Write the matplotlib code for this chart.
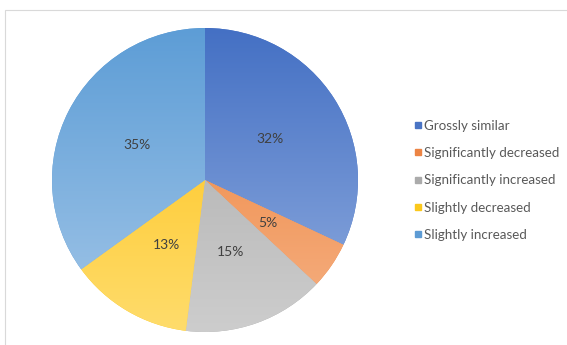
import numpy as np
import matplotlib
matplotlib.use("Agg")
import matplotlib.pyplot as plt
from matplotlib.colors import LinearSegmentedColormap
from matplotlib.lines import Line2D
from matplotlib.patches import Rectangle

# data
categories = ["Grossly similar", "Significantly decreased", "Significantly increased",
              "Slightly decreased", "Slightly increased"]
shares = [32, 5, 15, 13, 35]
# top/bottom shades for the gradient fill
top_colors = ["#4470c4", "#ee7f35", "#a8a8a8", "#fdc010", "#5d9dd6"]
bottom_colors = ["#91addf", "#f5b184", "#cdcdcd", "#ffdc6c", "#a2c6e8"]
legend_colors = ["#4a74c4", "#ec8444", "#ababab", "#fbc81c", "#5d9bd4"]

W, H = 567, 345
fig = plt.figure(figsize=(W / 100, H / 100), dpi=100)
fig.patch.set_facecolor("white")

# faint chart frame
fig.patches.append(Rectangle((5 / W, -0.1), 1.2, (H - 10) / H + 0.1, transform=fig.transFigure,
                             fill=False, edgecolor="#d9d9d9", linewidth=0.8))

cx, cy, rx, ry = 205, H - 180, 153, 152
ax = fig.add_axes([(cx - rx) / W, (cy - ry) / H, 2 * rx / W, 2 * ry / H])

wedges, texts, autotexts = ax.pie(
    shares, startangle=90, counterclock=False, colors=legend_colors,
    autopct="%1.0f%%", pctdistance=0.5,
    wedgeprops=dict(linewidth=0),
    textprops=dict(fontsize=10, color="#404040", family="Lato"),
)
ax.set_aspect("auto")

grad = np.linspace(0, 1, 256).reshape(-1, 1)
for w, c0, c1 in zip(wedges, top_colors, bottom_colors):
    cmap = LinearSegmentedColormap.from_list("g", [c0, c1])
    im = ax.imshow(grad, cmap=cmap, extent=(-1, 1, -1, 1), aspect="auto",
                   origin="upper", zorder=w.get_zorder() + 0.5)
    im.set_clip_path(w)
for t in autotexts:
    t.set_zorder(5)
ax.set_xlim(-1, 1)
ax.set_ylim(-1, 1)

handles = [Line2D([], [], marker="s", linestyle="none", markersize=5,
                  markerfacecolor=c, markeredgecolor=c) for c in legend_colors]
fig.legend(handles, categories, loc="upper left",
           bbox_to_anchor=(407 / W, 1 - 113 / H), frameon=False,
           prop=dict(family="Lato", size=9.6), labelcolor="#595959",
           handlelength=0.6, handletextpad=0.2, labelspacing=1.15,
           borderpad=0)

fig.savefig("out.png", dpi=100)
